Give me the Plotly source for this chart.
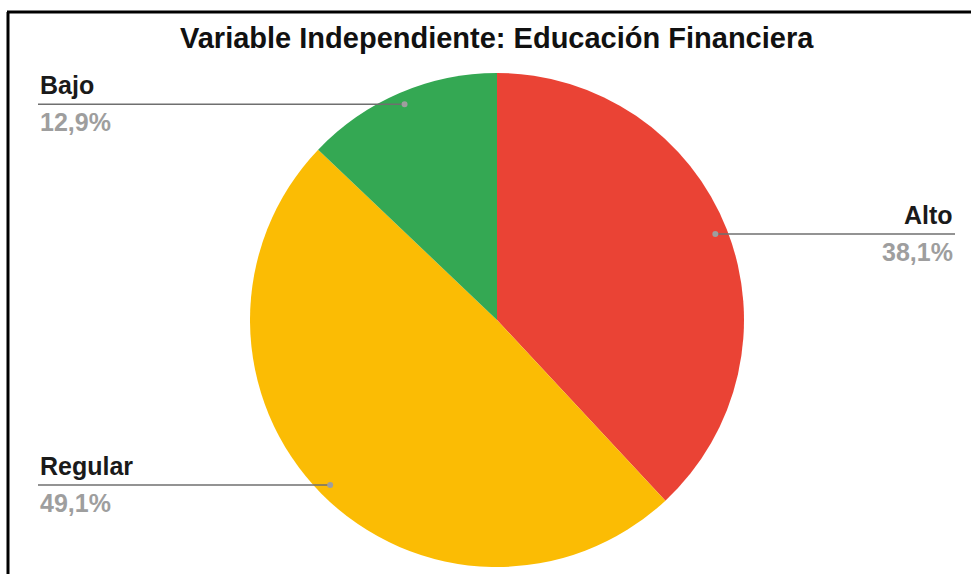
import math
import plotly.graph_objects as go

categories = ["Alto", "Regular", "Bajo"]
values = [38.1, 49.1, 12.9]
colors = ["#EA4335", "#FBBC04", "#34A853"]
pct_labels = ["38,1%", "49,1%", "12,9%"]
title_text = "Variable Independiente: Educación Financiera"

W, H = 971, 574
# pie geometry in pixels
cx, cy, R = 497, 320, 247

def px(x):
    return x / W

def py(y):
    return 1 - y / H

fig = go.Figure(go.Pie(
    labels=categories, values=values, sort=False, direction="clockwise",
    rotation=0, marker=dict(colors=colors, line=dict(width=0)),
    textinfo="none", hoverinfo="label+percent", showlegend=False,
    domain=dict(x=[px(cx - R), px(cx + R)], y=[py(cy + R), py(cy - R)]),
))

total = sum(values)
shapes = []
annotations = []
cum = 0.0
for cat, v, lab in zip(categories, values, pct_labels):
    mid = (cum + v / 2) / total * 2 * math.pi
    cum += v
    dx = 0.95 * R * math.sin(mid)
    dy = 0.95 * R * math.cos(mid)
    dot_x, dot_y = cx + dx, cy - dy
    if dx >= 0:
        end_x = 955
        anchor = "right"
    else:
        end_x = 38
        anchor = "left"
    shapes.append(dict(type="line", xref="paper", yref="paper",
                       x0=px(dot_x), y0=py(dot_y), x1=px(end_x), y1=py(dot_y),
                       line=dict(color="#6f6f6f", width=1.5)))
    shapes.append(dict(type="circle", xref="paper", yref="paper",
                       x0=px(dot_x - 3), x1=px(dot_x + 3),
                       y0=py(dot_y - 3), y1=py(dot_y + 3),
                       fillcolor="#9e9e9e", line=dict(width=0)))
    annotations.append(dict(x=px(end_x), y=py(dot_y - 3), xref="paper", yref="paper",
                            text="<b>" + cat + "</b>", showarrow=False,
                            xanchor=anchor, yanchor="bottom",
                            font=dict(family="Liberation Sans, Arial", size=25, color="#1a1a1a")))
    annotations.append(dict(x=px(end_x), y=py(dot_y + 2), xref="paper", yref="paper",
                            text="<b>" + lab + "</b>", showarrow=False,
                            xanchor=anchor, yanchor="top",
                            font=dict(family="Liberation Sans, Arial", size=25, color="#9e9e9e")))

# frame lines (top and left)
shapes.append(dict(type="line", xref="paper", yref="paper", x0=px(7), y0=py(12),
                   x1=1, y1=py(12), line=dict(color="#000000", width=3)))
shapes.append(dict(type="line", xref="paper", yref="paper", x0=px(8), y0=py(12),
                   x1=px(8), y1=0, line=dict(color="#000000", width=3)))

annotations.append(dict(x=px(497), y=py(38), xref="paper", yref="paper",
                        text="<b>" + title_text + "</b>", showarrow=False,
                        xanchor="center", yanchor="middle",
                        font=dict(family="Liberation Sans, Arial", size=29, color="#111111")))

fig.update_layout(width=W, height=H, margin=dict(l=0, r=0, t=0, b=0),
                  paper_bgcolor="white", plot_bgcolor="white",
                  shapes=shapes, annotations=annotations)

fig.write_html("out.html", config={"displayModeBar": False},
               post_script="document.body.style.margin='0';")
